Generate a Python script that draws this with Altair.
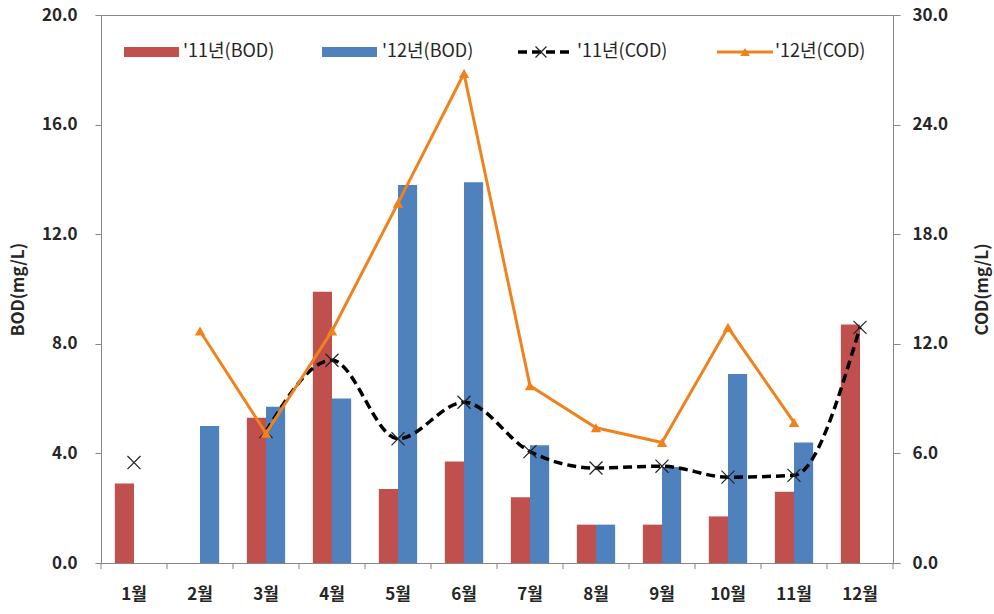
import altair as alt
import pandas as pd

# Monthly water-quality readings (mg/L)
months = ["1월", "2월", "3월", "4월", "5월", "6월", "7월", "8월", "9월", "10월", "11월", "12월"]
bod_2011 = [2.9, None, 5.3, 9.9, 2.7, 3.7, 2.4, 1.4, 1.4, 1.7, 2.6, 8.7]
bod_2012 = [None, 5.0, 5.7, 6.0, 13.8, 13.9, 4.3, 1.4, 3.5, 6.9, 4.4, None]
cod_2011 = [5.5, None, 7.2, 11.1, 6.8, 8.8, 6.1, 5.2, 5.3, 4.7, 4.8, 12.9]
cod_2012 = [None, 12.7, 7.1, 12.7, 19.7, 26.8, 9.7, 7.4, 6.6, 12.9, 7.7, None]
series_names = ["'11년(BOD)", "'12년(BOD)", "'11년(COD)", "'12년(COD)"]
bod_ticks = [0, 4, 8, 12, 16, 20]
cod_ticks = [0, 6, 12, 18, 24, 30]

FONT = "Noto Sans CJK KR"
RED, BLUE, ORANGE, AXIS = "#C0504D", "#4F81BD", "#F0821E", "#868686"
TEXT = "#262626"
W, H = 792, 548
STEP = W / len(months)
X_MARK = "M-1,-1L1,1M-1,1L1,-1"

bar_df = pd.DataFrame({
    "month": months * 2,
    "series": [series_names[0]] * 12 + [series_names[1]] * 12,
    "value": bod_2011 + bod_2012,
}).dropna()


def line_frame(values):
    df = pd.DataFrame({"month": months, "value": values})
    df["run"] = df["value"].isna().cumsum()
    return df.dropna()


cod11_df = line_frame(cod_2011)
cod12_df = line_frame(cod_2012)

x_axis = alt.Axis(
    title=None, ticks=False, domainColor=AXIS, labelAngle=0,
    labelFont=FONT, labelFontSize=17, labelFontWeight="bold",
    labelColor=TEXT, labelPadding=23, labelBaseline="top",
)
x_scale = alt.Scale(domain=months, paddingInner=0.42, paddingOuter=0.21)


def x_enc(**kw):
    return alt.X("month:N", sort=months, scale=x_scale, axis=x_axis, **kw)


bod_axis = alt.Axis(
    values=bod_ticks, format=".1f", grid=False, tickSize=6, tickColor=AXIS,
    domainColor=AXIS, labelFont=FONT, labelFontSize=17, labelFontWeight="bold",
    labelColor=TEXT, labelPadding=18, title="BOD(mg/L)", titleFont=FONT,
    titleFontSize=17, titleFontWeight="bold", titleColor=TEXT,
    titleX=-83, titleY=H / 2, titleAngle=-90, titleAlign="center",
    titleBaseline="middle",
)
cod_axis = alt.Axis(
    orient="right", values=cod_ticks, format=".1f", grid=False, tickSize=7,
    tickColor=AXIS, domainColor=AXIS, labelFont=FONT, labelFontSize=17,
    labelFontWeight="bold", labelColor=TEXT, labelPadding=12,
    title="COD(mg/L)", titleFont=FONT, titleFontSize=17,
    titleFontWeight="bold", titleColor=TEXT, titleX=89, titleY=H / 2,
    titleAngle=-90, titleAlign="center", titleBaseline="middle",
)

bars = alt.Chart(bar_df).mark_bar().encode(
    x=x_enc(),
    xOffset=alt.XOffset("series:N", scale=alt.Scale(domain=series_names[:2], paddingInner=0, paddingOuter=0)),
    y=alt.Y("value:Q", scale=alt.Scale(domain=[0, 20], nice=False), axis=bod_axis),
    color=alt.Color("series:N", scale=alt.Scale(domain=series_names[:2], range=[RED, BLUE]), legend=None),
)

cod_y = alt.Y("value:Q", scale=alt.Scale(domain=[0, 30], nice=False), axis=cod_axis)

line11 = alt.Chart(cod11_df).mark_line(
    color="black", strokeWidth=3.5, strokeDash=[9, 5], interpolate="monotone"
).encode(x=x_enc(), y=cod_y, detail="run:N")
pts11 = alt.Chart(cod11_df).mark_point(
    shape=X_MARK, size=170, filled=False, stroke="#222222", strokeWidth=1.2, opacity=1
).encode(x=x_enc(), y=cod_y)
line12 = alt.Chart(cod12_df).mark_line(color=ORANGE, strokeWidth=3).encode(
    x=x_enc(), y=cod_y, detail="run:N"
)
pts12 = alt.Chart(cod12_df).mark_point(
    shape="triangle-up", size=110, filled=True, color=ORANGE, opacity=1
).encode(x=x_enc(), y=cod_y)

cod_layer = alt.layer(line11, pts11, line12, pts12)

# Category boundary ticks below the x axis
tick_df = pd.DataFrame({"month": months})
ticks = alt.Chart(tick_df).mark_rule(color=AXIS, xOffset=-STEP / 2).encode(
    x=x_enc(bandPosition=0.5),
    y=alt.value(H), y2=alt.value(H + 6),
)
end_tick = alt.Chart(tick_df.head(1)).mark_rule(color=AXIS).encode(
    x=alt.value(W), y=alt.value(H), y2=alt.value(H + 6)
)

# Legend drawn inside the plot area
legend_df = pd.DataFrame({"name": series_names})
ly = 37


def legend_text(i, x):
    return alt.Chart(legend_df.iloc[[i]]).mark_text(
        align="left", baseline="middle", font=FONT, fontSize=18, color=TEXT
    ).encode(x=alt.value(x), y=alt.value(ly), text="name:N")


leg = [
    alt.Chart(legend_df.iloc[[0]]).mark_rect(color=RED).encode(
        x=alt.value(23), x2=alt.value(78), y=alt.value(ly - 5), y2=alt.value(ly + 5)),
    legend_text(0, 82),
    alt.Chart(legend_df.iloc[[1]]).mark_rect(color=BLUE).encode(
        x=alt.value(221), x2=alt.value(276), y=alt.value(ly - 5), y2=alt.value(ly + 5)),
    legend_text(1, 281),
    alt.Chart(legend_df.iloc[[2]]).mark_rule(color="black", strokeWidth=3.5, strokeDash=[9, 5]).encode(
        x=alt.value(417), x2=alt.value(468), y=alt.value(ly)),
    alt.Chart(legend_df.iloc[[2]]).mark_point(
        shape=X_MARK, size=120, filled=False, stroke="#222222", strokeWidth=1.2, opacity=1
    ).encode(x=alt.value(440), y=alt.value(ly)),
    legend_text(2, 476),
    alt.Chart(legend_df.iloc[[3]]).mark_rule(color=ORANGE, strokeWidth=3).encode(
        x=alt.value(616), x2=alt.value(672), y=alt.value(ly)),
    alt.Chart(legend_df.iloc[[3]]).mark_point(
        shape="triangle-up", size=90, filled=True, color=ORANGE, opacity=1
    ).encode(x=alt.value(644), y=alt.value(ly)),
    legend_text(3, 674),
]

chart = alt.layer(bars, cod_layer, ticks, end_tick, *leg).resolve_scale(
    y="independent"
).properties(
    width=W, height=H,
    autosize=alt.AutoSizeParams(type="none"),
    padding={"left": 101, "top": 15, "right": 101, "bottom": 51},
    background="white",
).configure_view(stroke=AXIS, strokeWidth=1)

chart.save("out.html", embed_options={"renderer": "svg", "actions": False})
